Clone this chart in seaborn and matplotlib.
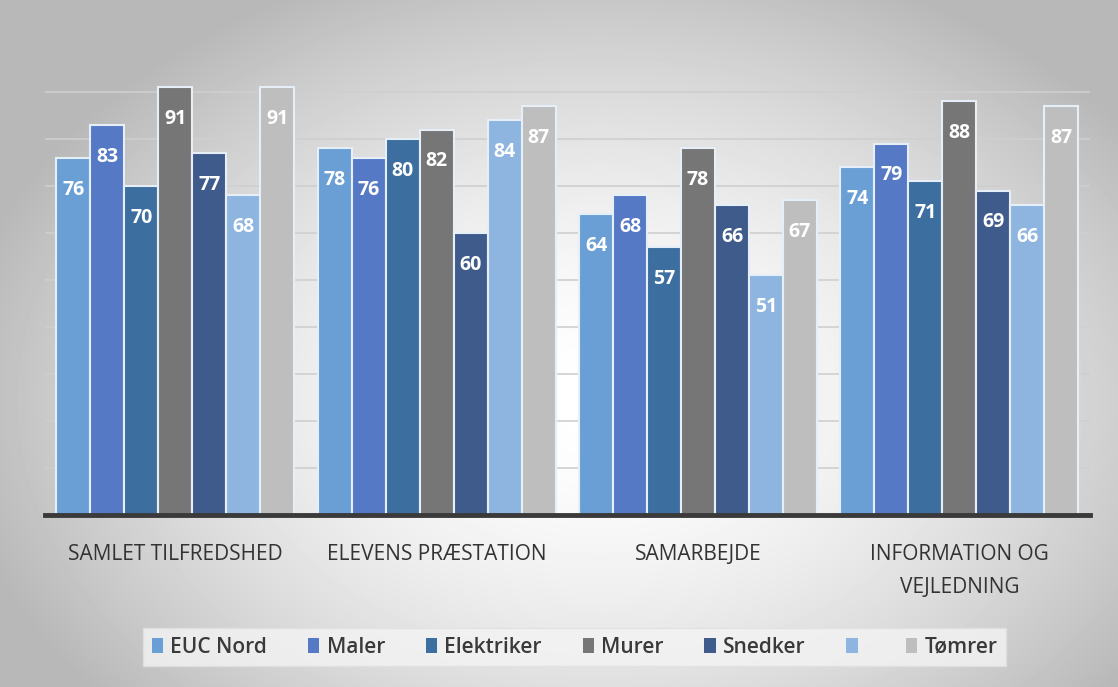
import numpy as np
import pandas as pd
import matplotlib
matplotlib.use("Agg")
import matplotlib.pyplot as plt
from matplotlib.patches import Patch
import seaborn as sns

categories = ["SAMLET TILFREDSHED", "ELEVENS PRÆSTATION", "SAMARBEJDE", "INFORMATION OG\nVEJLEDNING"]
series = ["EUC Nord", "Maler", "Elektriker", "Murer", "Snedker", "", "Tømrer"]
euc_nord = [76, 78, 64, 74]
maler = [83, 76, 68, 79]
elektriker = [70, 80, 57, 71]
murer = [91, 82, 78, 88]
snedker = [77, 60, 66, 69]
blank = [68, 84, 51, 66]
tomrer = [91, 87, 67, 87]
colors = ["#6A9FD6", "#5679C6", "#3C6E9F", "#767676", "#3F5B8B", "#8DB5E0", "#BEBEBE"]

values = [euc_nord, maler, elektriker, murer, snedker, blank, tomrer]
rows = []
for s, vals in zip(series, values):
    for c, v in zip(categories, vals):
        rows.append({"category": c, "series": s, "value": v})
df = pd.DataFrame(rows)

sns.set_theme(style="white")
plt.rcParams['font.family'] = ['Open Sans', 'DejaVu Sans']

fig = plt.figure(figsize=(11.18, 6.87), dpi=100)

# background gradient
bg = fig.add_axes([0, 0, 1, 1], zorder=-10)
yy, xx = np.mgrid[0:687, 0:1118]
r = np.sqrt(((xx - 600) / 680.0) ** 2 + ((yy - 400) / 480.0) ** 2)
val = np.clip(1.0 - 0.30 * r ** 1.7, 0.72, 1.0)
bg.imshow(val, cmap="gray", vmin=0, vmax=1, aspect="auto", extent=[0, 1, 0, 1])
bg.axis("off")

ax = fig.add_axes([0.040, 0.2504, 0.935, 0.684])
ax.patch.set_alpha(0)
sns.barplot(data=df, x="category", y="value", hue="series", hue_order=series,
            order=categories, palette=colors, width=0.91, saturation=1,
            edgecolor="#E6EEF8", linewidth=1.5, legend=False, ax=ax, errorbar=None)

ax.set_ylim(0, 100)
ax.set_xlim(-0.5, 3.5)
ax.set_yticks(np.arange(10, 100, 10))
ax.yaxis.grid(True, color="#CFCFCF", linewidth=1.2)
ax.set_axisbelow(True)
ax.set_yticklabels([])
ax.tick_params(axis="y", length=0)
ax.tick_params(axis="x", length=0, pad=21, labelsize=15, labelcolor="#333333")
for t in ax.get_xticklabels():
    t.set_linespacing(1.75)
ax.set_xlabel("")
ax.set_ylabel("")
for sp in ["top", "left", "right"]:
    ax.spines[sp].set_visible(False)
ax.spines["bottom"].set_color("#3A3A3A")
ax.spines["bottom"].set_linewidth(3.5)

for cont in ax.containers:
    ax.bar_label(cont, labels=[f"{int(b.get_height())}" for b in cont],
                 label_type="edge", padding=-30, color="white",
                 fontsize=14, fontweight="bold")

handles = [Patch(facecolor=c, edgecolor="none") for c in colors]
leg = fig.legend(handles, series, loc="center", bbox_to_anchor=(0.514, 0.058),
                 ncol=7, frameon=True, handlelength=0.55,
                 handleheight=0.7, handletextpad=0.35, columnspacing=1.95,
                 borderpad=0.4, fancybox=False,
                 prop={"family": "Open Sans", "size": 15, "weight": "semibold"})
leg.get_frame().set_facecolor("#F4F4F4")
leg.get_frame().set_edgecolor("#E0E0E0")
for t in leg.get_texts():
    t.set_color("#3A3A3A")

fig.savefig("out.png", dpi=100)
